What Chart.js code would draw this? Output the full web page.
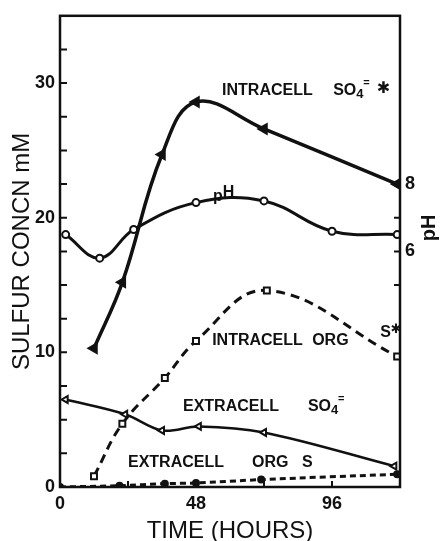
<!DOCTYPE html>
<html lang="en">
<head>
  <meta charset="UTF-8">
  <title>Sulfur Concentration vs Time</title>
  <script src="https://cdn.jsdelivr.net/npm/chart.js"></script>
  <style>
    body {
      margin: 0;
      background-color: #ffffff;
    }
    canvas {
      display: block;
    }
  </style>
</head>
<body>
  <canvas id="sulfurChart" width="440" height="541"></canvas>

  <script>
    // Intracellular sulfate (filled triangles, solid line)
    const intraSO4Hours = [12, 22, 36, 48, 72, 119];
    const intraSO4 = [10.3, 15.2, 24.7, 28.6, 26.6, 22.5];

    // pH (open circles, right axis)
    const phHours = [2, 14, 26, 48, 72, 96, 119];
    const phValues = [6.5, 5.8, 6.65, 7.45, 7.5, 6.6, 6.5];

    // Intracellular organic sulfur (open squares, long dashes)
    const intraOrgHours = [12, 22, 37, 48, 73, 119];
    const intraOrgS = [0.8, 4.7, 8.1, 10.85, 14.6, 9.7];

    // Extracellular sulfate (open triangles, solid line)
    const extraSO4Hours = [2, 23, 36, 49, 72, 118];
    const extraSO4 = [6.5, 5.4, 4.2, 4.5, 4.05, 1.55];

    // Extracellular organic sulfur (small dots, short dashes)
    const extraOrgHours = [0, 21, 37, 48, 71, 119];
    const extraOrgS = [0, 0.1, 0.25, 0.3, 0.55, 0.95];

    // Axis ticks
    const xLabelHours = [0, 48, 96];
    const xTickHours = [24, 48, 72, 96];
    const yLabelValues = [0, 10, 20, 30];
    const yTickValues = [2.5, 5, 7.5, 10, 12.5, 15, 17.5, 20, 22.5, 25, 27.5, 30, 32.5];
    const phLabelValues = [6, 8];
    const phTickValues = [5, 6, 7, 8];

    const FONT = "'Liberation Sans', Arial, sans-serif";

    function points(xs, ys) {
      return xs.map((x, i) => ({ x: x, y: ys[i] }));
    }

    // Curve labels, placed in data units (hours, mM)
    const curveLabels = [
      { text: 'INTRACELL', x: 57.2, y: 29.45 },
      { text: 'SO', x: 96.4, y: 29.45, sub: '4', sup: '=' },
      { text: '\u2731', x: 111.8, y: 29.45, star: true },
      { text: 'p', x: 54, y: 21.75, lower: true, tail: 'H' },
      { text: 'INTRACELL', x: 53.7, y: 10.9 },
      { text: 'ORG', x: 89, y: 10.9 },
      { text: 'S', x: 113, y: 11.5, tailStar: true },
      { text: 'EXTRACELL', x: 43.4, y: 5.95 },
      { text: 'SO', x: 87.5, y: 5.95, sub: '4', sup: '=' },
      { text: 'EXTRACELL', x: 24, y: 1.8 },
      { text: 'ORG', x: 67.8, y: 1.8 },
      { text: 'S', x: 85.4, y: 1.8 }
    ];

    // Frame, inward tick marks and curve labels
    const overlay = {
      id: 'overlay',
      afterDraw(chart) {
        const c = chart.ctx;
        const a = chart.chartArea;
        const sx = chart.scales.x, sy = chart.scales.y, sp = chart.scales.y2;
        c.save();
        c.strokeStyle = '#111';
        c.lineWidth = 2.5;
        c.strokeRect(a.left, a.top, a.right - a.left, a.bottom - a.top);

        c.lineWidth = 2;
        c.beginPath();
        yTickValues.forEach(v => {
          const py = sy.getPixelForValue(v);
          c.moveTo(a.left, py);
          c.lineTo(a.left + 7, py);
        });
        phTickValues.forEach(v => {
          const py = sp.getPixelForValue(v);
          c.moveTo(a.right, py);
          c.lineTo(a.right - 6, py);
        });
        xTickHours.forEach(v => {
          const px = sx.getPixelForValue(v);
          c.moveTo(px, a.bottom);
          c.lineTo(px, a.bottom - 6);
        });
        c.stroke();

        // pH axis title, reading bottom to top
        c.fillStyle = '#111';
        c.font = 'bold 20px ' + FONT;
        c.textAlign = 'center';
        c.textBaseline = 'middle';
        c.translate(429, sp.getPixelForValue(6.7));
        c.rotate(-Math.PI / 2);
        c.fillText('pH', 0, 0);
        c.setTransform(1, 0, 0, 1, 0, 0);

        c.textAlign = 'left';
        c.textBaseline = 'middle';
        curveLabels.forEach(l => {
          let px = sx.getPixelForValue(l.x);
          const py = sy.getPixelForValue(l.y);
          if (l.star) {
            c.font = 'bold 16px "DejaVu Sans", sans-serif';
            c.fillText(l.text, px, py - 2);
            return;
          }
          c.font = 'bold 16px ' + FONT;
          if (l.lower) {
            c.fillText(l.text, px, py + 2);
            px += c.measureText(l.text).width;
            c.fillText(l.tail, px, py - 2);
            return;
          }
          c.fillText(l.text, px, py);
          px += c.measureText(l.text).width;
          if (l.sub) {
            c.font = 'bold 13px ' + FONT;
            c.fillText(l.sub, px, py + 4);
            c.font = 'bold 11px ' + FONT;
            c.fillText(l.sup, px + 7, py - 8);
          }
          if (l.tailStar) {
            c.font = 'bold 13px "DejaVu Sans", sans-serif';
            c.fillText('\u2731', px, py - 3);
          }
        });
        c.restore();
      }
    };

    const sulfurCtx = document.getElementById('sulfurChart').getContext('2d');
    new Chart(sulfurCtx, {
      type: 'line',
      data: {
        datasets: [
          {
            label: 'Intracell SO4',
            data: points(intraSO4Hours, intraSO4),
            borderColor: '#111',
            borderWidth: 3.5,
            tension: 0.4,
            pointStyle: 'triangle',
            rotation: -90,
            pointRadius: 4,
            pointBackgroundColor: '#111',
            pointBorderColor: '#111'
          },
          {
            label: 'pH',
            data: points(phHours, phValues),
            yAxisID: 'y2',
            borderColor: '#111',
            borderWidth: 3,
            tension: 0.4,
            pointStyle: 'circle',
            pointRadius: 3.5,
            pointBorderWidth: 2,
            pointBackgroundColor: '#fff',
            pointBorderColor: '#111'
          },
          {
            label: 'Intracell org S',
            data: points(intraOrgHours, intraOrgS),
            borderColor: '#111',
            borderWidth: 3,
            borderDash: [9, 6],
            tension: 0.4,
            pointStyle: 'rect',
            pointRadius: 4.2,
            pointBorderWidth: 2,
            pointBackgroundColor: '#fff',
            pointBorderColor: '#111'
          },
          {
            label: 'Extracell SO4',
            data: points(extraSO4Hours, extraSO4),
            borderColor: '#111',
            borderWidth: 2.5,
            tension: 0.35,
            pointStyle: 'triangle',
            rotation: -90,
            pointRadius: 4,
            pointBorderWidth: 2,
            pointBackgroundColor: '#fff',
            pointBorderColor: '#111'
          },
          {
            label: 'Extracell org S',
            data: points(extraOrgHours, extraOrgS),
            borderColor: '#111',
            borderWidth: 3,
            borderDash: [6, 4],
            tension: 0.3,
            pointStyle: 'circle',
            pointRadius: 2.5,
            pointBackgroundColor: '#111',
            pointBorderColor: '#111'
          }
        ]
      },
      options: {
        responsive: false,
        animation: false,
        layout: {
          padding: { top: 15, left: 0, right: 0, bottom: 0 }
        },
        plugins: {
          legend: { display: false },
          tooltip: { enabled: false }
        },
        scales: {
          x: {
            type: 'linear',
            min: 0,
            max: 120,
            grid: { display: false, drawTicks: false },
            border: { display: false },
            afterBuildTicks: s => { s.ticks = xLabelHours.map(v => ({ value: v })); },
            afterFit: s => { s.height = 54; },
            ticks: {
              padding: 6,
              color: '#111',
              font: { family: FONT, size: 18, weight: 'bold' }
            },
            title: {
              display: true,
              text: 'TIME (HOURS)',
              color: '#111',
              font: { family: FONT, size: 24, lineHeight: 1 },
              padding: { top: 0, bottom: -2 }
            }
          },
          y: {
            position: 'left',
            min: 0,
            max: 35,
            grid: { display: false, drawTicks: false },
            border: { display: false },
            afterBuildTicks: s => { s.ticks = yLabelValues.map(v => ({ value: v })); },
            afterFit: s => { s.width = 60; },
            ticks: {
              padding: 5,
              color: '#111',
              font: { family: FONT, size: 18, weight: 'bold' }
            },
            title: {
              display: true,
              text: 'SULFUR CONCN mM',
              color: '#111',
              font: { family: FONT, size: 24, lineHeight: 1 },
              padding: { top: 10, bottom: 0 }
            }
          },
          y2: {
            position: 'right',
            min: -1,
            max: 13,
            grid: { display: false, drawTicks: false },
            border: { display: false },
            afterBuildTicks: s => { s.ticks = phLabelValues.map(v => ({ value: v })); },
            afterFit: s => { s.width = 40; },
            ticks: {
              padding: 5,
              color: '#111',
              font: { family: FONT, size: 18, weight: 'bold' }
            }
          }
        }
      },
      plugins: [overlay]
    });
  </script>
</body>
</html>
